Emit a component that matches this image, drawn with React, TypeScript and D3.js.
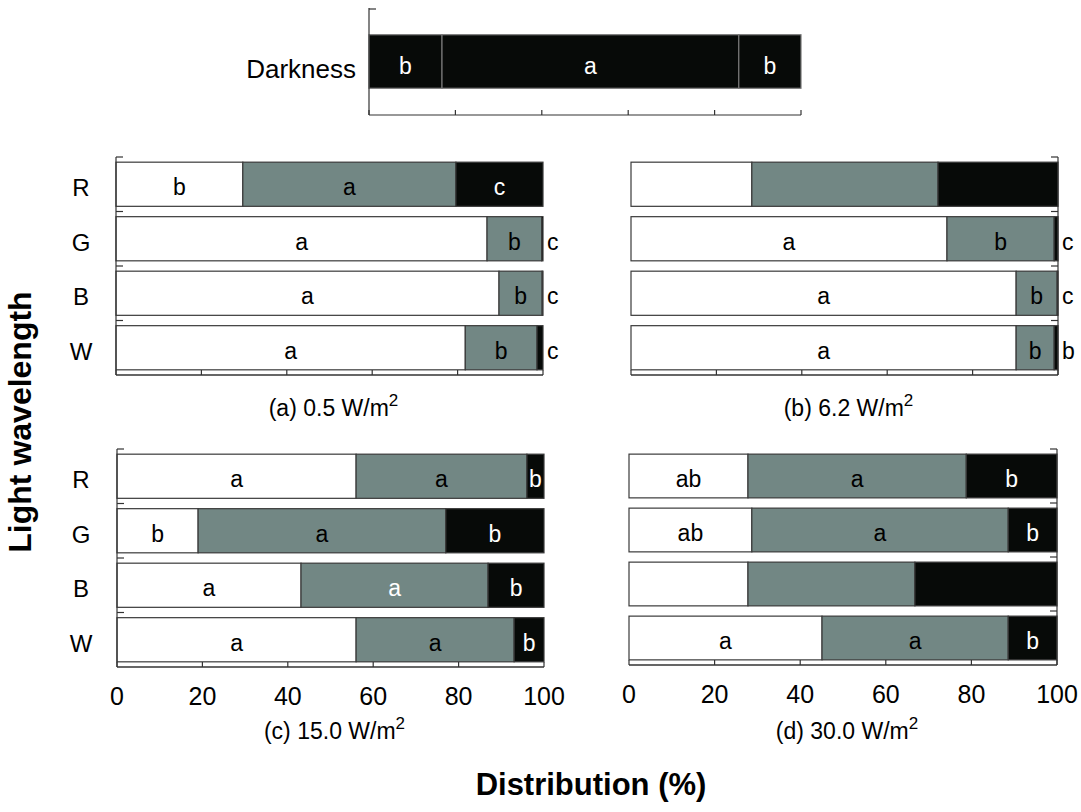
import React from "react";
import * as d3 from "d3";

const categories = ["R", "G", "B", "W"];
const seriesKeys = ["white", "gray", "black"];
const xTicks = [0, 20, 40, 60, 80, 100];

// Panel (a) 0.5 W/m2 : [white, gray, black] per category
const panelA = [
  [29.7, 49.9, 20.4],
  [86.9, 12.8, 0.3],
  [89.7, 10.1, 0.2],
  [81.8, 16.8, 1.4],
];
const labelsA = [
  ["b", "a", "c"],
  ["a", "b", "c"],
  ["a", "b", "c"],
  ["a", "b", "c"],
];
// Panel (b) 6.2 W/m2
const panelB = [
  [28.3, 43.6, 28.1],
  [74.0, 25.1, 0.9],
  [90.2, 9.6, 0.2],
  [90.2, 8.9, 0.9],
];
const labelsB = [
  ["", "", ""],
  ["a", "b", "c"],
  ["a", "b", "c"],
  ["a", "b", "b"],
];
// Panel (c) 15.0 W/m2
const panelC = [
  [56.0, 40.0, 4.0],
  [19.0, 58.0, 23.0],
  [43.1, 43.8, 13.1],
  [56.0, 37.0, 7.0],
];
const labelsC = [
  ["a", "a", "b"],
  ["b", "a", "b"],
  ["a", "a", "b"],
  ["a", "a", "b"],
];
// Panel (d) 30.0 W/m2
const panelD = [
  [27.8, 51.0, 21.2],
  [28.7, 59.9, 11.4],
  [27.8, 39.0, 33.2],
  [45.1, 43.5, 11.4],
];
const labelsD = [
  ["ab", "a", "b"],
  ["ab", "a", "b"],
  ["", "", ""],
  ["a", "a", "b"],
];
// Darkness: three segments, all dark
const darkness = [16.9, 68.7, 14.4];
const darknessLabels = ["b", "a", "b"];

const fills: Record<string, string> = { white: "#ffffff", gray: "#728784", black: "#070a08" };
const FONT = "'Liberation Sans', Arial, Helvetica, sans-serif";

type PanelProps = {
  data: number[][];
  labels: string[][];
  x0: number;
  x1: number;
  y0: number;
  y1: number;
  axisSide: "left" | "right";
  showCats: boolean;
  showTickLabels: boolean;
  caption: string;
  captionY: number;
  whiteOnGray?: number[];
};

function Panel(p: PanelProps) {
  const x = d3.scaleLinear().domain([0, 100]).range([p.x0, p.x1]);
  const y = d3.scaleBand<string>().domain(categories).range([p.y0, p.y1]).paddingInner(0.19).paddingOuter(0.095);
  const step = y.step();
  const axisY = p.y1;
  const axisX = p.axisSide === "left" ? x(0) : x(100);
  const tdir = p.axisSide === "left" ? 1 : -1;
  const stack = d3.stack<number[]>().keys(["0", "1", "2"]).value((d, k) => d[+k]);
  const stacked = stack(p.data);
  const boundaries = d3.range(categories.length + 1).map((i) => p.y0 + i * step);
  return (
    <g>
      {stacked.map((layer, si) =>
        layer.map((seg, ci) => (
          <rect
            key={`r${si}-${ci}`}
            x={x(seg[0])}
            y={y(categories[ci])}
            width={Math.max(0, x(seg[1]) - x(seg[0]))}
            height={y.bandwidth()}
            fill={fills[seriesKeys[si]]}
            stroke="#3a3a3a"
            strokeWidth={1.2}
          />
        ))
      )}
      {stacked.map((layer, si) =>
        layer.map((seg, ci) => {
          const lab = p.labels[ci][si];
          if (!lab) return null;
          const w = seg[1] - seg[0];
          const outside = w < 2;
          const cy = (y(categories[ci]) as number) + y.bandwidth() / 2 + 11;
          let color = "#000";
          if (si === 2) color = "#fff";
          if (si === 1 && p.whiteOnGray && p.whiteOnGray.includes(ci)) color = "#fff";
          if (outside) color = "#000";
          return (
            <text
              key={`t${si}-${ci}`}
              x={outside ? x(100) + 4 : x((seg[0] + seg[1]) / 2)}
              y={cy}
              textAnchor={outside ? "start" : "middle"}
              fontSize={23}
              fontFamily={FONT}
              fill={color}
            >
              {lab}
            </text>
          );
        })
      )}
      {/* y axis */}
      <line x1={axisX} x2={axisX} y1={p.y0} y2={axisY} stroke="#333" strokeWidth={1.2} />
      {boundaries.slice(0, -1).map((b, i) => (
        <line key={`yt${i}`} x1={axisX} x2={axisX + tdir * 7} y1={b} y2={b} stroke="#333" strokeWidth={1.2} />
      ))}
      {/* x axis */}
      <line x1={x(0)} x2={x(100)} y1={axisY} y2={axisY} stroke="#333" strokeWidth={1.4} />
      {xTicks.map((t) => (
        <line key={`xt${t}`} x1={x(t)} x2={x(t)} y1={axisY} y2={axisY - 5} stroke="#333" strokeWidth={1.2} />
      ))}
      {p.showTickLabels &&
        xTicks.map((t) => (
          <text key={`xl${t}`} x={x(t)} y={axisY + 38} textAnchor="middle" fontSize={25} fontFamily={FONT} fill="#000">
            {t}
          </text>
        ))}
      {p.showCats &&
        categories.map((c) => (
          <text
            key={`c${c}`}
            x={81}
            y={(y(c) as number) + y.bandwidth() / 2 + 12}
            textAnchor="middle"
            fontSize={24}
            fontFamily={FONT}
            fill="#000"
          >
            {c}
          </text>
        ))}
      <text x={(p.x0 + p.x1) / 2 + 4} y={p.captionY} textAnchor="middle" fontSize={23} fontFamily={FONT} fill="#000">
        {p.caption}
        <tspan dy={-10} fontSize={17}>2</tspan>
      </text>
    </g>
  );
}

function DarknessPanel() {
  const x = d3.scaleLinear().domain([0, 100]).range([369, 801]);
  const y = d3.scaleBand<string>().domain(["Darkness"]).range([8, 115]).paddingInner(0.5).paddingOuter(0.25);
  const cum = d3.cumsum(darkness);
  const starts = [0, ...Array.from(cum).slice(0, -1)];
  const by = y("Darkness") as number;
  const bh = y.bandwidth();
  return (
    <g>
      {darkness.map((v, i) => (
        <rect key={i} x={x(starts[i])} y={by} width={x(starts[i] + v) - x(starts[i])} height={bh} fill={fills.black} stroke="#777" strokeWidth={1.2} />
      ))}
      {darkness.map((v, i) => (
        <text key={`l${i}`} x={x(starts[i] + v / 2)} y={by + bh / 2 + 12} textAnchor="middle" fontSize={23} fontFamily={FONT} fill="#fff">
          {darknessLabels[i]}
        </text>
      ))}
      <line x1={x(0)} x2={x(0)} y1={8} y2={115} stroke="#333" strokeWidth={1.2} />
      <line x1={x(0)} x2={x(0) + 7} y1={9} y2={9} stroke="#333" strokeWidth={1.2} />
      <line x1={x(0)} x2={x(100)} y1={115} y2={115} stroke="#333" strokeWidth={1.2} />
      {xTicks.map((t) => (
        <line key={t} x1={x(t)} x2={x(t)} y1={115} y2={110} stroke="#333" strokeWidth={1.2} />
      ))}
      <text x={356} y={by + bh / 2 + 16} textAnchor="end" fontSize={26} fontFamily={FONT} fill="#000">
        Darkness
      </text>
    </g>
  );
}

export default function App() {
  return (
    <svg width={1081} height={812} style={{ display: "block", position: "absolute", left: 0, top: 0 }}>
      <rect width={1081} height={812} fill="#fff" />
      <DarknessPanel />
      <Panel data={panelA} labels={labelsA} x0={116} x1={543} y0={157} y1={375} axisSide="left" showCats showTickLabels={false} caption="(a) 0.5 W/m" captionY={416} />
      <Panel data={panelB} labels={labelsB} x0={631} x1={1058} y0={157} y1={375} axisSide="right" showCats={false} showTickLabels={false} caption="(b) 6.2 W/m" captionY={416} />
      <Panel data={panelC} labels={labelsC} x0={117} x1={544} y0={449} y1={667} axisSide="left" showCats showTickLabels caption="(c) 15.0 W/m" captionY={739} whiteOnGray={[2]} />
      <Panel data={panelD} labels={labelsD} x0={629} x1={1057} y0={449} y1={665} axisSide="right" showCats={false} showTickLabels caption="(d) 30.0 W/m" captionY={739} />
      <text x={591} y={795} textAnchor="middle" fontSize={31} fontWeight="bold" fontFamily={FONT} fill="#000">
        Distribution (%)
      </text>
      <text transform="translate(31,422) rotate(-90)" textAnchor="middle" fontSize={32} fontWeight="bold" fontFamily={FONT} fill="#000">
        Light wavelength
      </text>
    </svg>
  );
}
